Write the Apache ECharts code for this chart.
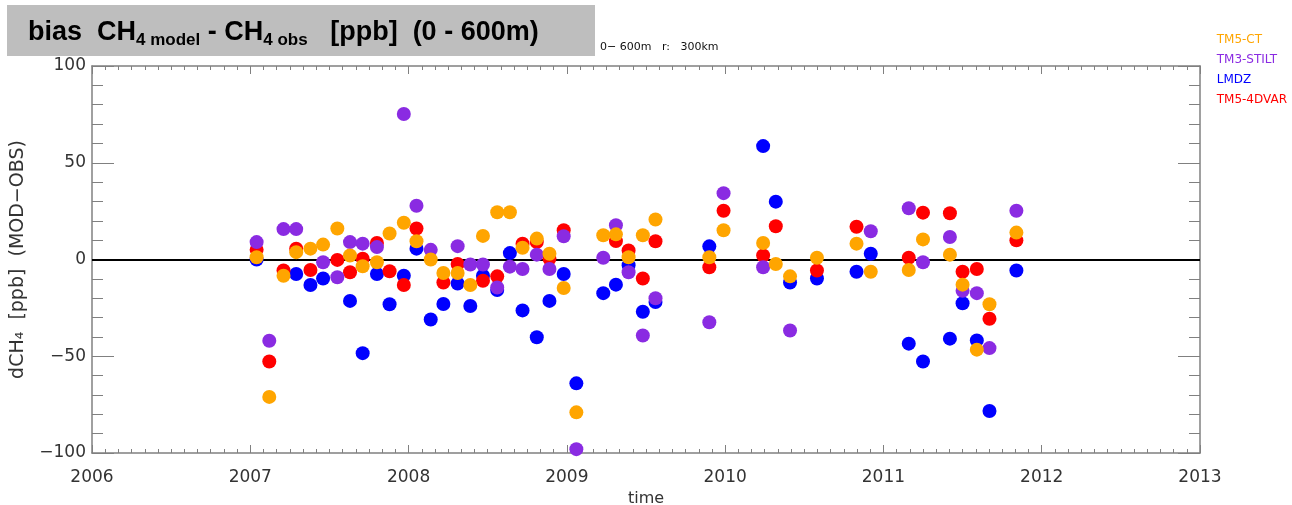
<!DOCTYPE html>
<html><head><meta charset="utf-8">
<script src="https://cdn.jsdelivr.net/npm/echarts@6/dist/echarts.min.js"></script>
<style>html,body{margin:0;padding:0;background:#fff}#c{width:1292px;height:505px}</style>
</head><body><div id="c"></div>
<script>
// Data: [decimal year, bias in ppb]
const tm5ct = [[2007.04,1.2],[2007.12,-71],[2007.21,-8.4],[2007.29,3.8],[2007.38,5.6],[2007.46,7.7],[2007.55,16],[2007.63,2.1],[2007.71,-3.5],[2007.80,-1.4],[2007.88,13.4],[2007.97,19.0],[2008.05,9.4],[2008.14,0],[2008.22,-7],[2008.31,-7],[2008.39,-13.2],[2008.47,12.2],[2008.56,24.4],[2008.64,24.4],[2008.72,6.1],[2008.81,10.8],[2008.89,3],[2008.98,-14.7],[2009.06,-79],[2009.23,12.5],[2009.31,13],[2009.39,1.2],[2009.48,12.5],[2009.56,20.7],[2009.90,1.2],[2009.99,15.1],[2010.24,8.5],[2010.32,-2.3],[2010.41,-8.7],[2010.58,0.9],[2010.83,8.2],[2010.92,-6.3],[2011.16,-5.4],[2011.25,10.4],[2011.42,2.5],[2011.50,-13],[2011.59,-46.6],[2011.67,-23.1],[2011.84,13.9]];
const tm3stilt = [[2007.04,9],[2007.12,-42],[2007.21,15.7],[2007.29,15.7],[2007.46,-1.4],[2007.55,-9.2],[2007.63,9],[2007.71,8.2],[2007.80,6.4],[2007.97,75.2],[2008.05,27.8],[2008.14,5],[2008.31,6.9],[2008.39,-2.6],[2008.47,-2.6],[2008.56,-14.5],[2008.64,-3.7],[2008.72,-4.9],[2008.81,2.5],[2008.89,-4.9],[2008.98,12],[2009.06,-98],[2009.23,0.9],[2009.31,17.7],[2009.39,-6.6],[2009.48,-39.3],[2009.56,-20],[2009.90,-32.4],[2009.99,34.3],[2010.24,-4],[2010.41,-36.7],[2010.92,14.6],[2011.16,26.5],[2011.25,-1.4],[2011.42,11.6],[2011.50,-16.2],[2011.59,-17.4],[2011.67,-45.8],[2011.84,25.2]];
const lmdz = [[2007.04,0],[2007.29,-7.5],[2007.38,-13.2],[2007.46,-9.8],[2007.63,-21.4],[2007.71,-48.4],[2007.80,-7.5],[2007.88,-23.1],[2007.97,-8.4],[2008.05,5.6],[2008.14,-31],[2008.22,-23],[2008.31,-12.4],[2008.39,-24],[2008.47,-8.4],[2008.56,-15.8],[2008.64,3.3],[2008.72,-26.3],[2008.81,-40.2],[2008.89,-21.4],[2008.98,-7.5],[2009.06,-64],[2009.23,-17.4],[2009.31,-13],[2009.39,-3],[2009.48,-27],[2009.56,-22],[2009.90,6.8],[2010.24,58.6],[2010.32,29.9],[2010.41,-11.9],[2010.58,-9.8],[2010.83,-6.3],[2010.92,3],[2011.16,-43.5],[2011.25,-52.7],[2011.42,-40.9],[2011.50,-22.6],[2011.59,-41.8],[2011.67,-78.3],[2011.84,-5.7]];
const tm54dvar = [[2007.04,5],[2007.12,-52.7],[2007.21,-5.7],[2007.29,5.6],[2007.38,-5.4],[2007.55,-0.2],[2007.63,-6.6],[2007.71,0.4],[2007.80,8.5],[2007.88,-6.1],[2007.97,-13.2],[2008.05,16],[2008.22,-11.9],[2008.31,-2.3],[2008.47,-11],[2008.56,-8.7],[2008.72,8.2],[2008.81,9],[2008.89,0.4],[2008.98,15.1],[2009.31,9.5],[2009.39,4.7],[2009.48,-9.8],[2009.56,9.4],[2009.90,-4],[2009.99,25.2],[2010.24,2.1],[2010.32,17.2],[2010.58,-5.7],[2010.83,16.9],[2011.16,0.9],[2011.25,24.2],[2011.42,23.9],[2011.50,-6.3],[2011.59,-4.9],[2011.67,-30.6],[2011.84,9.9]];
const seriesNames = ['TM5-CT','TM3-STILT','LMDZ','TM5-4DVAR'];
const seriesColors = ['#FFA500','#8A2BE2','#0000FF','#FF0000'];
const yTicks = [-100,-50,0,50,100];
const xYears = [2006,2013];

const chart = echarts.init(document.getElementById('c'), null, {renderer:'canvas'});
const axisGray = '#808080';
const labelFont = {fontFamily:'DejaVu Sans, sans-serif', fontSize:17, color:'#333'};
function sc(name, data, color, z){
  return {name, type:'scatter', data, symbol:'circle', symbolSize:14, z,
    itemStyle:{color, opacity:1}, emphasis:{disabled:true}, animation:false};
}
const series = [
  sc('LMDZ', lmdz, seriesColors[2], 2),
  sc('TM5-4DVAR', tm54dvar, seriesColors[3], 3),
  sc('TM3-STILT', tm3stilt, seriesColors[1], 4),
  sc('TM5-CT', tm5ct, seriesColors[0], 5)
];
series[0].markLine = {silent:true, symbol:'none', label:{show:false}, animation:false,
  lineStyle:{color:'#000', width:2, type:'solid'}, data:[{yAxis:0}], z:1};

chart.setOption({
  animation:false,
  backgroundColor:'#fff',
  grid:{left:92, right:92, top:66, bottom:52, show:false, containLabel:false, outerBoundsMode:'none'},
  legend:{
    orient:'vertical', right:0, top:29, itemGap:8, itemWidth:0, itemHeight:0, icon:'none',
    data: seriesNames.map((n,i)=>({name:n, textStyle:{color:seriesColors[i]}})),
    textStyle:{fontFamily:'DejaVu Sans, sans-serif', fontSize:12, padding:[0,0,0,0]},
    selectedMode:false
  },
  xAxis:[{
    type:'value', min:xYears[0], max:xYears[1], interval:1, position:'bottom',
    name:'time', nameLocation:'middle', nameGap:37,
    nameTextStyle:{fontFamily:'DejaVu Sans, sans-serif', fontSize:16, color:'#333'},
    axisLine:{show:true, onZero:false, lineStyle:{color:axisGray, width:1.5}},
    axisTick:{show:true, inside:true, length:8, lineStyle:{color:axisGray}},
    minorTick:{show:true, splitNumber:12, length:4, lineStyle:{color:axisGray}},
    axisLabel:Object.assign({margin:16, formatter:v=>String(Math.round(v))}, labelFont),
    splitLine:{show:false}
  },{
    type:'value', min:xYears[0], max:xYears[1], interval:1, position:'top',
    axisLine:{show:true, onZero:false, lineStyle:{color:axisGray, width:1.5}},
    axisTick:{show:true, inside:true, length:8, lineStyle:{color:axisGray}},
    minorTick:{show:true, splitNumber:12, length:4, lineStyle:{color:axisGray}},
    axisLabel:{show:false}, splitLine:{show:false}
  }],
  yAxis:[{
    type:'value', min:yTicks[0], max:yTicks[yTicks.length-1], interval:50, position:'left',
    name:'dCH\u2084  [ppb]  (MOD\u2212OBS)', nameLocation:'middle', nameGap:64, nameRotate:90,
    nameTextStyle:{fontFamily:'DejaVu Sans, sans-serif', fontSize:19, color:'#333'},
    axisLine:{show:true, onZero:false, lineStyle:{color:axisGray, width:1.5}},
    axisTick:{show:true, inside:true, length:22, lineStyle:{color:axisGray}},
    minorTick:{show:true, splitNumber:5, length:11, lineStyle:{color:axisGray}},
    axisLabel:Object.assign({margin:6, padding:[5,0,0,0], formatter:v=>String(v).replace('-', '\u2212')}, labelFont),
    splitLine:{show:false}
  },{
    type:'value', min:yTicks[0], max:yTicks[yTicks.length-1], interval:50, position:'right',
    axisLine:{show:true, onZero:false, lineStyle:{color:axisGray, width:1.5}},
    axisTick:{show:true, inside:true, length:22, lineStyle:{color:axisGray}},
    minorTick:{show:true, splitNumber:5, length:11, lineStyle:{color:axisGray}},
    axisLabel:{show:false}, splitLine:{show:false}
  }],
  graphic:[
    {type:'rect', left:7, top:5, shape:{width:588, height:51}, style:{fill:'#BEBEBE'}, z:10},
    {type:'text', left:28, top:19, z:11, style:{
      rich:{
        b:{fontFamily:'Liberation Sans, Arial, sans-serif', fontWeight:'bold', fontSize:27, fill:'#000'},
        s:{fontFamily:'Liberation Sans, Arial, sans-serif', fontWeight:'bold', fontSize:17, fill:'#000', padding:[15,0,0,0]}
      },
      text:'{b|bias  CH}{s|4 model}{b| - CH}{s|4 obs}{b|   [ppb]  (0 - 600m)}'
    }},
    {type:'text', left:600, top:42, z:11, style:{
      text:'0\u2212 600m   r:   300km', fontFamily:'DejaVu Sans, sans-serif', fontSize:11, fill:'#111'
    }}
  ],
  series
});
</script></body></html>
